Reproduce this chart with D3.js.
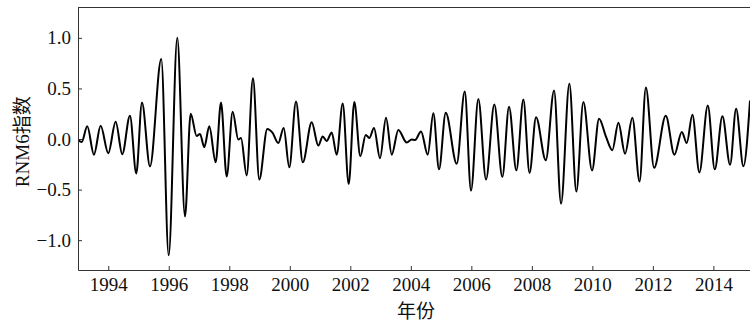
<!DOCTYPE html>
<html><head><meta charset="utf-8">
<script src="https://cdn.jsdelivr.net/npm/d3@7"></script>
<style>body{margin:0;background:#fff}svg{display:block}</style>
</head><body>
<script>
// Data: local extrema of the RNM6 index (year, value)
const years = [1993.0,1993.12,1993.306,1993.527,1993.749,1994.0,1994.245,1994.463,1994.717,1994.926,
1995.114,1995.379,1995.752,1995.997,1996.281,1996.536,1996.724,1996.922,1997.031,1997.174,
1997.339,1997.55,1997.726,1997.914,1998.112,1998.298,1998.387,1998.575,1998.783,1998.992,
1999.256,1999.421,1999.62,1999.798,1999.983,2000.205,2000.43,2000.724,2000.942,2001.088,
2001.22,2001.385,2001.55,2001.749,2001.947,2002.132,2002.331,2002.509,2002.628,2002.783,
2002.982,2003.18,2003.369,2003.587,2003.864,2004.03,2004.139,2004.337,2004.559,2004.744,
2004.932,2005.154,2005.517,2005.782,2005.99,2006.231,2006.486,2006.76,2007.025,2007.246,
2007.488,2007.719,2007.924,2008.139,2008.46,2008.734,2008.965,2009.24,2009.471,2009.702,
2009.99,2010.221,2010.453,2010.661,2010.86,2011.081,2011.322,2011.56,2011.769,2012.04,
2012.427,2012.711,2012.956,2013.12,2013.306,2013.537,2013.815,2014.046,2014.298,2014.552,
2014.751,2014.992,2015.21];
const values = [-0.01,-0.03,0.125,-0.155,0.13,-0.14,0.17,-0.15,0.23,-0.34,
0.36,-0.27,0.79,-1.15,1.00,-0.765,0.25,0.03,0.05,-0.08,
0.125,-0.23,0.36,-0.37,0.27,-0.005,0.01,-0.36,0.60,-0.40,
0.10,0.065,-0.04,0.11,-0.28,0.37,-0.23,0.165,-0.065,0.025,
-0.02,0.065,-0.155,0.35,-0.445,0.365,-0.17,0.04,0.01,0.11,
-0.19,0.21,-0.155,0.09,-0.035,-0.005,-0.01,0.075,-0.155,0.255,
-0.30,0.26,-0.245,0.47,-0.51,0.395,-0.40,0.34,-0.375,0.32,
-0.31,0.39,-0.335,0.215,-0.21,0.48,-0.64,0.545,-0.52,0.365,
-0.31,0.2,0.02,-0.11,0.16,-0.145,0.21,-0.42,0.51,-0.285,
0.23,-0.155,0.07,-0.04,0.24,-0.33,0.33,-0.30,0.225,-0.255,
0.30,-0.27,0.38];
const xTicks = [1994,1996,1998,2000,2002,2004,2006,2008,2010,2012,2014];
const yTicks = [-1.0,-0.5,0.0,0.5,1.0];
const xLabel = "年份";
const yLabel = "RNM6指数";

const W = 750, H = 325;
const m = {left: 78, right: 0, top: 7.5, bottom: 270};
const font = "'Liberation Serif', 'Noto Sans CJK SC', serif";

const svg = d3.select("body").append("svg").attr("width", W).attr("height", H)
  .style("font-family", font);
const x = d3.scaleLinear().domain([1993.0, 2015.21]).range([m.left, W]);
const y = d3.scaleLinear().domain([-1.295, 1.3]).range([m.bottom, m.top]);

svg.append("defs").append("clipPath").attr("id","clip")
  .append("rect").attr("x", m.left).attr("y", m.top).attr("width", W - m.left).attr("height", m.bottom - m.top);

const data = years.map((d,i)=>({x:d, y:values[i]}));
svg.append("path").datum(data)
  .attr("clip-path","url(#clip)")
  .attr("fill","none").attr("stroke","#000").attr("stroke-width",2)
  .attr("stroke-linejoin","round")
  .attr("d", d3.line().x(d=>x(d.x)).y(d=>y(d.y)).curve(d3.curveMonotoneX));

// axes with inward ticks
const xAxis = svg.append("g").attr("transform",`translate(0,${m.bottom})`)
  .call(d3.axisBottom(x).tickValues(xTicks).tickFormat(d3.format("d")).tickSizeInner(-4).tickSizeOuter(0).tickPadding(8));
const yAxis = svg.append("g").attr("transform",`translate(${m.left},0)`)
  .call(d3.axisLeft(y).tickValues(yTicks).tickFormat(d=> (d<0?"\u2212":"") + Math.abs(d).toFixed(1)).tickSizeInner(-4).tickSizeOuter(0).tickPadding(7));
[xAxis, yAxis].forEach(g=>{
  g.attr("font-family", null).attr("font-size", null);
  g.select(".domain").attr("stroke","#333").attr("stroke-width",1);
  g.selectAll(".tick line").attr("stroke","#333");
  g.selectAll("text").style("font-family",font).style("font-size","19px").attr("fill","#111");
});
// top spine
svg.append("line").attr("x1",m.left).attr("x2",W).attr("y1",m.top).attr("y2",m.top)
  .attr("stroke","#333").attr("stroke-width",1);

svg.append("text").attr("x",(m.left+W)/2 + 2).attr("y",318).attr("text-anchor","middle")
  .style("font-family",font).style("font-size","19px").attr("fill","#111").text(xLabel);
svg.append("text").attr("transform",`translate(29,${(m.top+m.bottom)/2 + 3}) rotate(-90)`)
  .attr("text-anchor","middle").style("font-family",font).style("font-size","19px").attr("fill","#111").text(yLabel);
</script>
</body></html>
